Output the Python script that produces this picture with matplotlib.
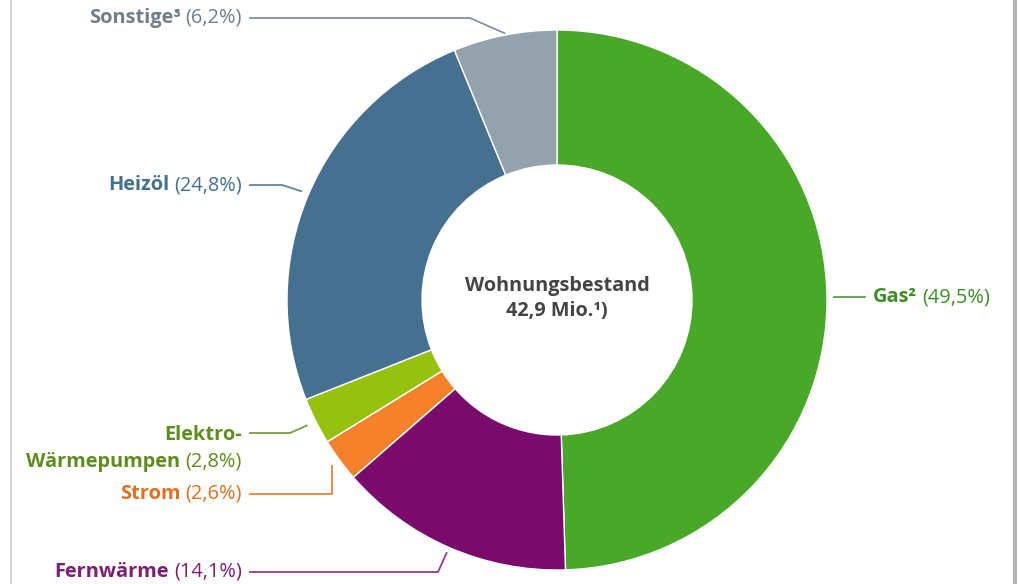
import numpy as np
import matplotlib
matplotlib.use("Agg")
import matplotlib.pyplot as plt

# ---- data ----
categories = ["Gas²", "Fernwärme", "Strom", "Elektro-\nWärmepumpen", "Heizöl", "Sonstige³"]
shares = [49.5, 14.1, 2.6, 2.8, 24.8, 6.2]
pct_labels = ["(49,5%)", "(14,1%)", "(2,6%)", "(2,8%)", "(24,8%)", "(6,2%)"]
wedge_colors = ["#4aa829", "#7a0a6c", "#f5822a", "#97c10f", "#46708f", "#93a2ad"]
text_colors = ["#3d8f27", "#7b1f73", "#e2701f", "#5f8d1b", "#46708f", "#6f7e89"]
center_title = "Wohnungsbestand"
center_value = "42,9 Mio.¹)"

FONT = "Open Sans"
W, H = 1018, 584
fig = plt.figure(figsize=(W / 100, H / 100), dpi=100)
ax = fig.add_axes([0, 0, 1, 1])

cx, cy, R = 557, 300, 270
# y axis inverted -> counterclock=True draws visually clockwise from top
wedges, _ = ax.pie(shares, colors=wedge_colors, startangle=-90, counterclock=True,
                   center=(cx, cy), radius=R, frame=True,
                   wedgeprops=dict(width=R * 0.5, edgecolor="white", linewidth=1.0))
ax.set_xlim(0, W)
ax.set_ylim(H, 0)
ax.axis("off")

# frame lines
ax.plot([11, 11], [0, H], color="#d4d4d4", lw=1.5, solid_capstyle="butt")
ax.plot([1015, 1015], [0, H], color="#b5b5b5", lw=3, solid_capstyle="butt")

cfs = 14.3
ax.text(cx, 286, center_title, ha="center", va="center", fontsize=cfs,
        fontweight="bold", color="#444444", family=FONT)
ax.text(cx, 311, center_value, ha="center", va="center", fontsize=cfs,
        fontweight="bold", color="#444444", family=FONT)

fig.canvas.draw()
renderer = fig.canvas.get_renderer()

# layout: label anchor (x, y), side, elbow x, leader radius
layout = {
    0: dict(x=873, y=297, side="L", elbow=865, r=277),
    1: dict(x=242, y=572, side="R", elbow=438, r=276),
    2: dict(x=242, y=494, side="R", elbow=None, r=280),
    3: dict(x=242, y=462, side="R", elbow=290, r=280, line_y=433),
    4: dict(x=242, y=185, side="R", elbow=282, r=278),
    5: dict(x=242, y=18, side="R", elbow=470, r=272),
}

fs = 14.4
gap = 5
for i, w in enumerate(wedges):
    L = layout[i]
    ang = np.deg2rad((w.theta1 + w.theta2) / 2)
    px = cx + L["r"] * np.cos(ang)
    py = cy + L["r"] * np.sin(ang)
    col = text_colors[i]
    name = categories[i]
    pct = pct_labels[i]
    if L["side"] == "R":
        lines = name.split("\n")
        t = ax.text(L["x"], L["y"], pct, ha="right", va="center", fontsize=fs,
                    color=col, family=FONT)
        wpx = t.get_window_extent(renderer).width
        ax.text(L["x"] - wpx - gap, L["y"], lines[-1], ha="right", va="center",
                fontsize=fs, fontweight="bold", color=col, family=FONT)
        if len(lines) == 2:
            ax.text(L["x"], L["y"] - 27, lines[0], ha="right", va="center",
                    fontsize=fs, fontweight="bold", color=col, family=FONT)
            ly = L["line_y"]
        else:
            ly = L["y"]
        ex = L["elbow"] if L["elbow"] is not None else px
        ax.plot([250, ex, px], [ly, ly, py], color=col, lw=1.3, alpha=0.85)
    else:
        t = ax.text(L["x"], L["y"], name, ha="left", va="center", fontsize=fs,
                    fontweight="bold", color=col, family=FONT)
        wpx = t.get_window_extent(renderer).width
        ax.text(L["x"] + wpx + gap, L["y"], pct, ha="left", va="center",
                fontsize=fs, color=col, family=FONT)
        ax.plot([px, L["elbow"]], [L["y"], L["y"]], color=col, lw=1.3, alpha=0.85)

fig.savefig("out.png", dpi=100)
